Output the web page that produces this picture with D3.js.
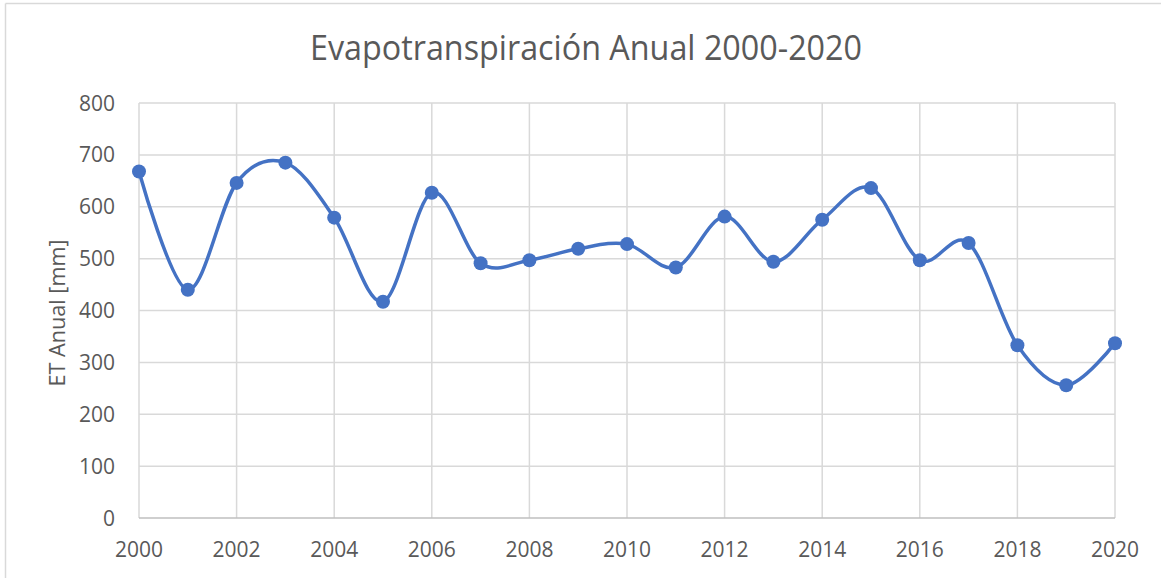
<!DOCTYPE html>
<html>
<head>
<meta charset="utf-8">
<script src="https://cdn.jsdelivr.net/npm/d3@7"></script>
<style>
html,body{margin:0;padding:0;background:#fff;}
svg{display:block;}
text{font-family:"Open Sans","Noto Sans",sans-serif;fill:#595959;}
</style>
</head>
<body>
<script>
const years = [2000,2001,2002,2003,2004,2005,2006,2007,2008,2009,2010,2011,2012,2013,2014,2015,2016,2017,2018,2019,2020];
const etValues = [668,440,646,685,579,417,627,491,497,519,528,483,581,494,575,636,497,530,333,256,337];
const yTicks = [0,100,200,300,400,500,600,700,800];
const xTicks = [2000,2002,2004,2006,2008,2010,2012,2014,2016,2018,2020];
const title = "Evapotranspiración Anual 2000-2020";
const yLabel = "ET Anual [mm]";

const W = 1161, H = 578;
const m = {left:139, right:1115, top:103, bottom:518};

const svg = d3.select("body").append("svg").attr("width", W).attr("height", H);
svg.append("rect").attr("x",0).attr("y",0).attr("width",W).attr("height",H).attr("fill","#fff");
// chart border (top and left visible)
svg.append("line").attr("x1",5.5).attr("x2",W).attr("y1",3.5).attr("y2",3.5).attr("stroke","#d9d9d9").attr("stroke-width",1.5);
svg.append("line").attr("x1",5.5).attr("x2",5.5).attr("y1",3.5).attr("y2",H).attr("stroke","#d9d9d9").attr("stroke-width",1.5);

const x = d3.scaleLinear().domain([2000,2020]).range([m.left, m.right]);
const y = d3.scaleLinear().domain([0,800]).range([m.bottom, m.top]);

// horizontal gridlines
svg.append("g").selectAll("line").data(yTicks.filter(d=>d>0)).join("line")
  .attr("x1", m.left).attr("x2", m.right)
  .attr("y1", d=>y(d)).attr("y2", d=>y(d))
  .attr("stroke","#d9d9d9").attr("stroke-width",1.5);
// vertical gridlines
svg.append("g").selectAll("line").data(xTicks).join("line")
  .attr("x1", d=>x(d)).attr("x2", d=>x(d))
  .attr("y1", m.top).attr("y2", m.bottom)
  .attr("stroke","#d9d9d9").attr("stroke-width",1.5);
// x axis line
svg.append("line").attr("x1",m.left).attr("x2",m.right).attr("y1",y(0)).attr("y2",y(0))
  .attr("stroke","#bfbfbf").attr("stroke-width",1.5);

// y tick labels
svg.append("g").selectAll("text").data(yTicks).join("text")
  .attr("x", 115).attr("y", d=>y(d)).attr("dy","0.36em")
  .attr("text-anchor","end").attr("font-size",21).text(d=>d);
// x tick labels
svg.append("g").selectAll("text").data(xTicks).join("text")
  .attr("x", d=>x(d)).attr("y", 557)
  .attr("text-anchor","middle").attr("font-size",21).text(d=>d);

// title
svg.append("text").attr("x", 586).attr("y", 59.5).attr("text-anchor","middle")
  .attr("font-size",35)
  .attr("textLength",552).attr("lengthAdjust","spacingAndGlyphs").text(title);

// y axis title
svg.append("text").attr("transform","translate(64.5,313) rotate(-90)")
  .attr("text-anchor","middle").attr("font-size",21)
  .attr("textLength",147).attr("lengthAdjust","spacingAndGlyphs").text(yLabel);

const pts = years.map((yr,i)=>[yr, etValues[i]]);
const line = d3.line().x(d=>x(d[0])).y(d=>y(d[1])).curve(d3.curveCatmullRom.alpha(0));
svg.append("path").attr("d", line(pts)).attr("fill","none")
  .attr("stroke","#4472C4").attr("stroke-width",3.5).attr("stroke-linejoin","round");
svg.append("g").selectAll("circle").data(pts).join("circle")
  .attr("cx", d=>x(d[0])).attr("cy", d=>y(d[1])).attr("r",7)
  .attr("fill","#4472C4");
</script>
</body>
</html>
